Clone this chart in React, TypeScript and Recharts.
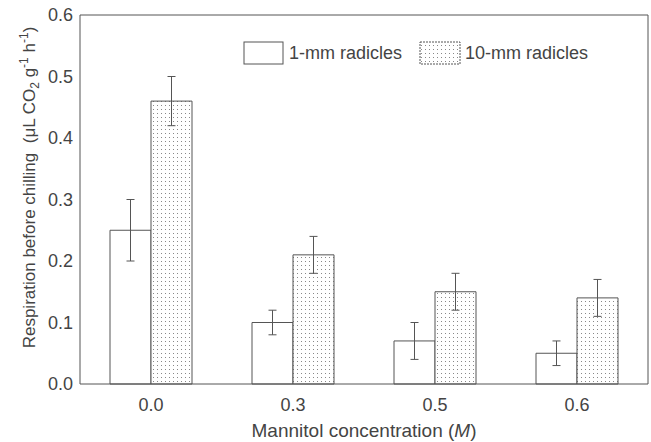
import { BarChart, Bar, XAxis, YAxis, ErrorBar, Legend, ReferenceLine } from 'recharts'

document.body.style.margin = '0'

// values
const categories = ['0.0', '0.3', '0.5', '0.6']
const oneMm = [0.25, 0.1, 0.07, 0.05]
const oneMmErr = [0.05, 0.02, 0.03, 0.02]
const tenMm = [0.46, 0.21, 0.15, 0.14]
const tenMmErr = [0.04, 0.03, 0.03, 0.03]
const yTicks = [0, 0.1, 0.2, 0.3, 0.4, 0.5, 0.6]
const boundaryTicks = [1, 2, 3]

const data = categories.map((c, i) => ({
  category: c,
  oneMm: oneMm[i],
  oneMmErr: oneMmErr[i],
  tenMm: tenMm[i],
  tenMmErr: tenMmErr[i],
}))

const INK = '#555'
const TEXT = '#444'
const FONT = '"Liberation Sans", Arial, sans-serif'

const YLabel = (props: any) => {
  const vb = props.viewBox || { x: 0, y: 15, width: 80, height: 369 }
  const cx = vb.x + 35
  const cy = vb.y + vb.height / 2 - 12
  return (
    <text
      x={cx}
      y={cy}
      transform={`rotate(-90, ${cx}, ${cy})`}
      textAnchor="middle"
      fill={TEXT}
      fontSize={17}
      fontFamily={FONT}
    >
      Respiration before chilling{'\u00a0\u00a0'}(μL CO
      <tspan fontSize={12} dy={4}>2</tspan>
      <tspan dy={-4}> g</tspan>
      <tspan fontSize={12} dy={-7}>-1</tspan>
      <tspan dy={7}> h</tspan>
      <tspan fontSize={12} dy={-7}>-1</tspan>
      <tspan dy={7}>)</tspan>
    </text>
  )
}

const XLabel = (props: any) => {
  const vb = props.viewBox || { x: 80, y: 384, width: 568, height: 58 }
  return (
    <text
      x={vb.x + vb.width / 2}
      y={vb.y + 53}
      textAnchor="middle"
      fill={TEXT}
      fontSize={19}
      fontFamily={FONT}
    >
      Mannitol concentration (<tspan fontStyle="italic">M</tspan>)
    </text>
  )
}

const renderLegend = () => (
  <svg width={360} height={26} style={{ display: 'block' }}>
    <rect x={4} y={2} width={39} height={22} fill="#fff" stroke={INK} />
    <text x={49} y={19} fontSize={18} fill={TEXT} fontFamily={FONT}>1-mm radicles</text>
    <rect x={180} y={2} width={40} height={22} fill="url(#dots)" stroke={INK} strokeDasharray="2 1" />
    <text x={225} y={19} fontSize={18} fill={TEXT} fontFamily={FONT}>10-mm radicles</text>
  </svg>
)

export default function App() {
  return (
    <div style={{ width: 651, height: 442, background: '#fff' }}>
      <svg width={0} height={0} style={{ position: 'absolute' }}>
        <defs>
          <pattern id="dots" width={4} height={4} patternUnits="userSpaceOnUse">
            <rect width={4} height={4} fill="#fff" />
            <rect x={1} y={1} width={1} height={1} fill="#888" />
          </pattern>
        </defs>
      </svg>
      <BarChart
        width={651}
        height={442}
        data={data}
        margin={{ top: 15, right: 3, left: 0, bottom: 0 }}
        barGap={0}
        barCategoryGap={30}
      >
        <XAxis
          dataKey="category"
          height={58}
          tickLine={false}
          tickSize={0}
          tickMargin={14}
          axisLine={{ stroke: INK }}
          tick={{ fill: TEXT, fontSize: 18, fontFamily: FONT }}
          label={<XLabel />}
        />
        <XAxis
          xAxisId="bounds"
          type="number"
          domain={[0, 4]}
          ticks={boundaryTicks}
          mirror
          tick={false}
          tickSize={-3}
          axisLine={false}
          tickLine={{ stroke: INK }}
        />
        <YAxis
          width={80}
          domain={[0, 0.6]}
          ticks={yTicks}
          tickFormatter={(v: number) => v.toFixed(1)}
          tickLine={false}
          tickSize={0}
          tickMargin={7}
          axisLine={{ stroke: INK }}
          tick={{ fill: TEXT, fontSize: 18, fontFamily: FONT }}
          label={<YLabel />}
        />
        <YAxis
          yAxisId="innerLeft"
          domain={[0, 0.6]}
          ticks={yTicks}
          mirror
          tick={false}
          tickSize={7}
          axisLine={false}
          tickLine={{ stroke: INK }}
        />
        <YAxis
          yAxisId="innerRight"
          orientation="right"
          domain={[0, 0.6]}
          ticks={yTicks}
          mirror
          tick={false}
          tickSize={7}
          axisLine={{ stroke: INK }}
          tickLine={{ stroke: INK }}
        />
        <ReferenceLine y={0.6} stroke={INK} />
        <Legend
          layout="vertical"
          align="center"
          verticalAlign="middle"
          content={renderLegend}
          wrapperStyle={{ top: 40, left: 240, width: 360, height: 26 }}
        />
        <Bar dataKey="oneMm" name="1-mm radicles" fill="#fff" stroke={INK} strokeWidth={1} isAnimationActive={false}>
          <ErrorBar dataKey="oneMmErr" width={4} stroke={INK} strokeWidth={1} isAnimationActive={false} />
        </Bar>
        <Bar dataKey="tenMm" name="10-mm radicles" fill="url(#dots)" stroke={INK} strokeWidth={1} isAnimationActive={false}>
          <ErrorBar dataKey="tenMmErr" width={4} stroke={INK} strokeWidth={1} isAnimationActive={false} />
        </Bar>
      </BarChart>
    </div>
  )
}
